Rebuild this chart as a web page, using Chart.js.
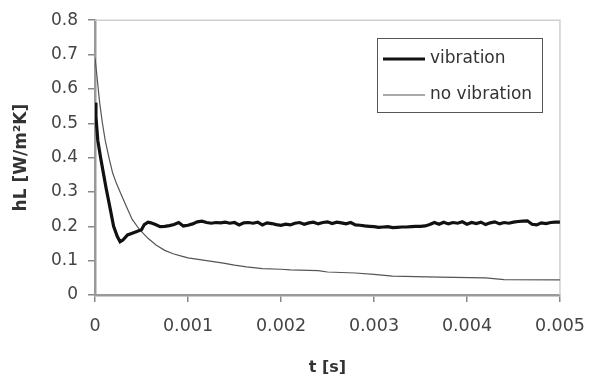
<!DOCTYPE html>
<html>
<head>
<meta charset="utf-8">
<script src="https://cdn.jsdelivr.net/npm/chart.js@4"></script>
<style>
  html, body { margin: 0; padding: 0; background: #fff; }
  #wrap { width: 599px; height: 378px; }
</style>
</head>
<body>
<div id="wrap"><canvas id="c" width="599" height="378"></canvas></div>
<script>
// time [s] and heat transfer coefficient
const vibT = [0, 0.00001, 0.00003, 0.00006, 0.00009, 0.00012, 0.00016, 0.0002, 0.00024, 0.00027,
  0.0003, 0.00035, 0.0004, 0.00045, 0.0005, 0.00053, 0.00057, 0.0006, 0.00065,
  0.0007, 0.00075, 0.0008, 0.00085, 0.0009, 0.00095, 0.001, 0.00105, 0.0011, 0.00115,
  0.0012, 0.00125, 0.0013, 0.00135, 0.0014, 0.00145, 0.0015, 0.00155, 0.0016, 0.00165,
  0.0017, 0.00175, 0.0018, 0.00185, 0.0019, 0.00195, 0.002, 0.00205, 0.0021, 0.00215,
  0.0022, 0.00225, 0.0023, 0.00235, 0.0024, 0.00245, 0.0025, 0.00255, 0.0026, 0.00265,
  0.0027, 0.00275, 0.0028, 0.00285, 0.0029, 0.00295, 0.003, 0.00305, 0.0031, 0.00315,
  0.0032, 0.00325, 0.0033, 0.00335, 0.0034, 0.00345, 0.0035, 0.00355, 0.0036, 0.00365,
  0.0037, 0.00375, 0.0038, 0.00385, 0.0039, 0.00395, 0.004, 0.00405, 0.0041, 0.00415,
  0.0042, 0.00425, 0.0043, 0.00435, 0.0044, 0.00445, 0.0045, 0.00455, 0.0046, 0.00465,
  0.0047, 0.00475, 0.0048, 0.00485, 0.0049, 0.00495, 0.005];
const vibH = [0.56, 0.52, 0.45, 0.40, 0.355, 0.31, 0.256, 0.20, 0.17, 0.155,
  0.16, 0.175, 0.18, 0.185, 0.19, 0.205, 0.212, 0.21, 0.205,
  0.199, 0.200, 0.202, 0.205, 0.211, 0.201, 0.203, 0.207, 0.213, 0.215,
  0.211, 0.209, 0.211, 0.210, 0.212, 0.209, 0.211, 0.204, 0.210, 0.211,
  0.209, 0.212, 0.204, 0.210, 0.208, 0.205, 0.203, 0.206, 0.204, 0.209,
  0.211, 0.206, 0.210, 0.212, 0.207, 0.211, 0.213, 0.208, 0.212, 0.210,
  0.207, 0.211, 0.204, 0.203, 0.201, 0.200, 0.199, 0.197, 0.198, 0.199,
  0.196, 0.197, 0.198, 0.198, 0.199, 0.200, 0.200, 0.201, 0.205, 0.211,
  0.206, 0.212, 0.207, 0.211, 0.209, 0.213, 0.206, 0.211, 0.208, 0.212,
  0.205, 0.210, 0.213, 0.207, 0.211, 0.209, 0.212, 0.214, 0.215, 0.216,
  0.206, 0.204, 0.210, 0.208, 0.211, 0.212, 0.212];

const noVibT = [0, 0.00002, 0.00005, 0.00008, 0.00011, 0.00015, 0.00019, 0.00023, 0.00027, 0.00034,
  0.0004, 0.00048, 0.00057, 0.00066, 0.00075, 0.00084, 0.00093, 0.001, 0.0012,
  0.00138, 0.0015, 0.00163, 0.0018, 0.002, 0.0021, 0.0024, 0.0025, 0.0028, 0.003,
  0.0032, 0.0037, 0.0042, 0.0044, 0.005];
const noVibH = [0.69, 0.64, 0.56, 0.50, 0.45, 0.40, 0.355, 0.325, 0.30, 0.256,
  0.22, 0.19, 0.165, 0.145, 0.13, 0.12, 0.113, 0.108, 0.10,
  0.093, 0.087, 0.082, 0.077, 0.075, 0.073, 0.071, 0.067, 0.064, 0.060,
  0.055, 0.052, 0.050, 0.045, 0.044];

const xTicks = [0, 0.001, 0.002, 0.003, 0.004, 0.005];
const labels = ['vibration', 'no vibration'];

const toXY = (xs, ys) => xs.map((x, i) => ({ x, y: ys[i] }));
const FONT = "'DejaVu Sans', sans-serif";

// plot frame (light top/right) + legend box
const extras = {
  id: 'extras',
  beforeDatasetsDraw(chart) {
    const { ctx, chartArea: a } = chart;
    ctx.save();
    ctx.strokeStyle = '#cfcfcf';
    ctx.lineWidth = 1.5;
    ctx.beginPath();
    ctx.moveTo(a.left, a.top);
    ctx.lineTo(a.right, a.top);
    ctx.lineTo(a.right, a.bottom);
    ctx.stroke();
    ctx.restore();
  },
  afterDatasetsDraw(chart) {
    const { ctx } = chart;
    const ds = chart.data.datasets;
    ctx.save();
    ctx.fillStyle = '#fff';
    ctx.fillRect(377, 38, 165, 74);
    ctx.strokeStyle = '#555';
    ctx.lineWidth = 1;
    ctx.strokeRect(377.5, 38.5, 165, 74);
    ctx.font = '17px ' + FONT;
    ctx.textBaseline = 'middle';
    const rows = [59, 95];
    ds.forEach((d, i) => {
      ctx.strokeStyle = d.borderColor;
      ctx.lineWidth = d.borderWidth;
      ctx.beginPath();
      ctx.moveTo(383, rows[i]);
      ctx.lineTo(425, rows[i]);
      ctx.stroke();
      ctx.fillStyle = '#333';
      ctx.fillText(d.label, 430, rows[i]);
    });
    ctx.restore();
  }
};

new Chart(document.getElementById('c'), {
  type: 'line',
  data: {
    datasets: [
      { label: labels[0], data: toXY(vibT, vibH), borderColor: '#111', borderWidth: 3.2 },
      { label: labels[1], data: toXY(noVibT, noVibH), borderColor: '#555', borderWidth: 1.2 }
    ]
  },
  options: {
    responsive: false,
    animation: false,
    elements: { point: { radius: 0 }, line: { tension: 0 } },
    layout: { padding: { left: 8, right: 39, top: 20, bottom: 0 } },
    plugins: { legend: { display: false }, tooltip: { enabled: false } },
    scales: {
      x: {
        type: 'linear', min: 0, max: 0.005,
        afterBuildTicks: s => { s.ticks = xTicks.map(v => ({ value: v })); },
        afterFit: s => { s.height = 83; },
        ticks: { callback: v => String(+v.toFixed(3)), color: '#444', font: { family: FONT, size: 17.5 }, padding: 14, maxRotation: 0 },
        grid: { drawOnChartArea: false, tickLength: 7, color: '#888', lineWidth: 1.5 },
        border: { color: '#999', width: 2.5 },
        title: { display: true, text: 't [s]', color: '#333', font: { family: FONT, size: 16, weight: 'bold' }, padding: { top: 4, bottom: 1 } }
      },
      y: {
        min: 0, max: 0.8,
        afterFit: s => { s.width = 87; },
        ticks: { stepSize: 0.1, callback: v => String(+v.toFixed(1)), color: '#444', font: { family: FONT, size: 17 }, padding: 10 },
        grid: { drawOnChartArea: false, tickLength: 7, color: '#888', lineWidth: 1.5 },
        border: { color: '#999', width: 2.5 },
        title: { display: true, text: 'hL [W/m²K]', color: '#333', font: { family: FONT, size: 17, weight: 'bold' }, padding: 3 }
      }
    }
  },
  plugins: [extras]
});
</script>
</body>
</html>
